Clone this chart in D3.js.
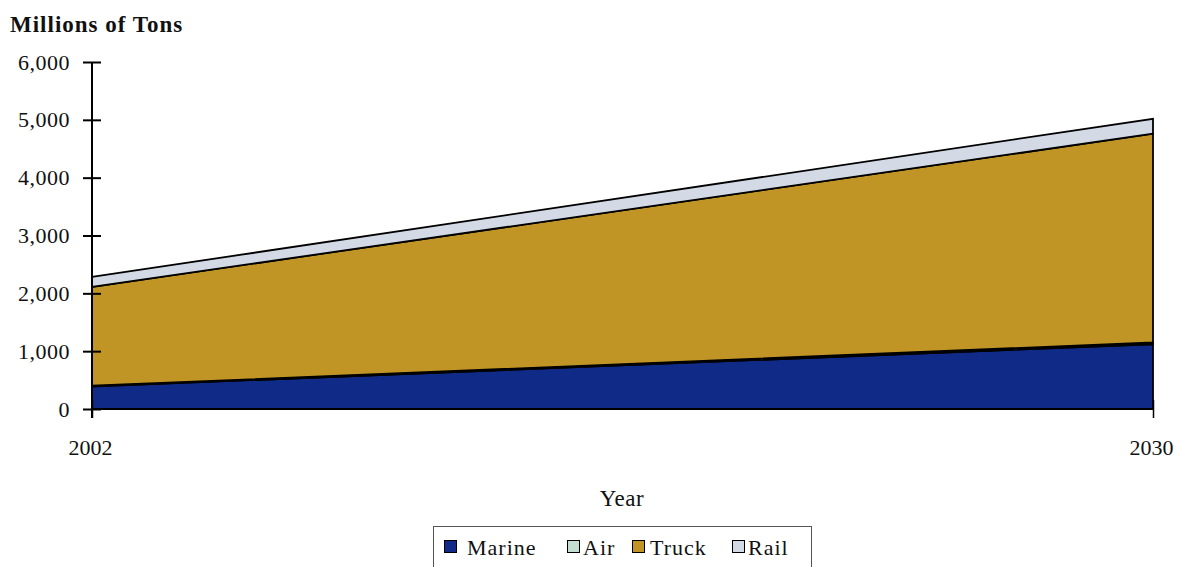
<!DOCTYPE html>
<html>
<head>
<meta charset="utf-8">
<script src="https://cdn.jsdelivr.net/npm/d3@7"></script>
<style>
  body { margin: 0; background: #fff; }
  svg { display: block; font-family: "Liberation Serif", "DejaVu Serif", serif; }
</style>
</head>
<body>
<svg id="chart" width="1178" height="567"></svg>
<script>
// Freight tonnage by mode, millions of tons
const years = [2002, 2030];
const marine = [390, 1120];
const air = [12, 30];
const truck = [1710, 3610];
const rail = [172, 258];
const seriesNames = ["Marine", "Air", "Truck", "Rail"];
const seriesColors = ["#102a87", "#c3ddd2", "#c09525", "#d4d9e6"];
const yTicks = [0, 1000, 2000, 3000, 4000, 5000, 6000];

const rows = years.map((yr, i) => ({
  year: yr, Marine: marine[i], Air: air[i], Truck: truck[i], Rail: rail[i]
}));

const svg = d3.select("#chart");
const plotLeft = 92, plotRight = 1153, plotTop = 62, plotBottom = 409;
const fontSize = 22;

const x = d3.scaleLinear().domain([2002, 2030]).range([plotLeft, plotRight]);
const y = d3.scaleLinear().domain([0, 6000]).range([plotBottom, plotTop]);

const layers = d3.stack().keys(seriesNames)(rows);

const area = d3.area()
  .x(d => x(d.data.year))
  .y0(d => y(d[0]))
  .y1(d => y(d[1]));

svg.append("g").selectAll("path")
  .data(layers)
  .join("path")
  .attr("d", area)
  .attr("fill", (d, i) => seriesColors[i])
  .attr("stroke", "#000")
  .attr("stroke-width", 1.8)
  .attr("stroke-linejoin", "miter");

// y axis
const yAxis = d3.axisLeft(y)
  .tickValues(yTicks)
  .tickFormat(d3.format(","))
  .tickSize(9)
  .tickSizeOuter(0)
  .tickPadding(13);
const gy = svg.append("g").attr("transform", `translate(${plotLeft},0)`).call(yAxis);
gy.select(".domain").attr("stroke", "#000").attr("stroke-width", 2)
  .attr("d", `M0,${plotTop}V${plotBottom + 9}`);
gy.selectAll(".tick line").attr("x1", -9).attr("x2", 9).attr("stroke-width", 2);
gy.selectAll(".tick text").attr("font-size", fontSize).attr("fill", "#111")
  .attr("font-family", "Liberation Serif, serif")
  .attr("letter-spacing", 0.5);

// x axis
const xAxis = d3.axisBottom(x)
  .tickValues(years)
  .tickFormat(d3.format("d"))
  .tickSize(9)
  .tickSizeOuter(0)
  .tickPadding(21);
const gx = svg.append("g").attr("transform", `translate(0,${plotBottom})`).call(xAxis);
gx.select(".domain").attr("stroke", "#000").attr("stroke-width", 2)
  .attr("d", `M${plotLeft},0H${plotRight}`);
gx.selectAll(".tick line").attr("y1", -9).attr("y2", 9).attr("stroke-width", 1.5);
gx.selectAll(".tick text").attr("font-size", fontSize).attr("fill", "#111")
  .attr("font-family", "Liberation Serif, serif")
  .attr("dx", -2);

// titles
svg.append("text")
  .attr("x", 10).attr("y", 32)
  .attr("font-size", 23).attr("font-weight", "bold").attr("fill", "#111")
  .attr("letter-spacing", 1)
  .text("Millions of Tons");

svg.append("text")
  .attr("x", 622).attr("y", 506)
  .attr("text-anchor", "middle")
  .attr("font-size", 23).attr("fill", "#111")
  .attr("letter-spacing", 0.5)
  .text("Year");

// legend
const legend = svg.append("g");
legend.append("rect")
  .attr("x", 433.5).attr("y", 526.5)
  .attr("width", 378).attr("height", 50)
  .attr("fill", "#fff").attr("stroke", "#555").attr("stroke-width", 1);

const swatchX = [444, 567, 632, 732];
const labelX = [467, 583, 650, 748];
const items = legend.selectAll("g.item")
  .data(seriesNames)
  .join("g")
  .attr("class", "item");
items.append("rect")
  .attr("x", (d, i) => swatchX[i] + 0.5).attr("y", 540.5)
  .attr("width", 12).attr("height", 12)
  .attr("fill", (d, i) => seriesColors[i])
  .attr("stroke", "#000").attr("stroke-width", 1);
items.append("text")
  .attr("x", (d, i) => labelX[i]).attr("y", 555)
  .attr("font-size", fontSize).attr("fill", "#111")
  .attr("letter-spacing", 1)
  .text(d => d);
</script>
</body>
</html>
